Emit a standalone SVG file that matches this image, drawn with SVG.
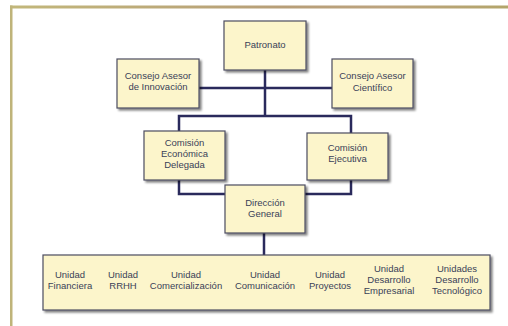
<svg xmlns="http://www.w3.org/2000/svg" width="508" height="326" viewBox="0 0 508 326">
<defs>
<linearGradient id="topg" x1="0" y1="0" x2="1" y2="0">
<stop offset="0" stop-color="#C2B77A"/>
<stop offset="0.55" stop-color="#B79E78"/>
<stop offset="0.75" stop-color="#BCA37E"/>
<stop offset="1" stop-color="#B3A56A"/>
</linearGradient>
<filter id="sh" x="-10%" y="-10%" width="130%" height="130%">
<feGaussianBlur in="SourceAlpha" stdDeviation="1"/>
<feOffset dx="2" dy="2" result="b"/>
<feComponentTransfer><feFuncA type="linear" slope="0.5"/></feComponentTransfer>
<feMerge><feMergeNode/><feMergeNode in="SourceGraphic"/></feMerge>
</filter>
</defs>
<style>
.box{fill:#FCF5CB;stroke:#4B4D60;stroke-width:1.2;filter:url(#sh)}
.t{font-family:"Liberation Sans",Arial,sans-serif;font-size:9.5px;fill:#3A3F58;text-anchor:middle}
.c{fill:none;stroke:#2A2A5C;stroke-width:2.5}
</style>
<rect width="508" height="326" fill="#FFFFFF"/>
<rect x="10" y="5.5" width="498" height="3" fill="url(#topg)"/>
<rect x="10" y="5.5" width="2.5" height="320.5" fill="#BFB47A"/>

<g id="connectors">
<path class="c" d="M265 70V116"/>
<path class="c" d="M199 88H332"/>
<path class="c" d="M179 131V116H351V133"/>
<path class="c" d="M179 180V194H225"/>
<path class="c" d="M351 180V194H305"/>
<path class="c" d="M264 233V255"/>
</g>

<g id="patronato">
<rect class="box" x="224" y="21" width="82" height="49"/>
<text class="t" x="265" y="48">Patronato</text>
</g>
<g id="consejo-innovacion">
<rect class="box" x="117" y="59" width="82" height="49"/>
<text class="t" x="158" y="79">Consejo Asesor</text>
<text class="t" x="158" y="90">de Innovación</text>
</g>
<g id="consejo-cientifico">
<rect class="box" x="332" y="59" width="81" height="49"/>
<text class="t" x="372.5" y="79">Consejo Asesor</text>
<text class="t" x="372.5" y="91">Científico</text>
</g>
<g id="comision-economica">
<rect class="box" x="144" y="131" width="81" height="49"/>
<text class="t" x="184.5" y="146">Comisión</text>
<text class="t" x="184.5" y="157">Económica</text>
<text class="t" x="184.5" y="168">Delegada</text>
</g>
<g id="comision-ejecutiva">
<rect class="box" x="307" y="133" width="81" height="47"/>
<text class="t" x="347.5" y="151">Comisión</text>
<text class="t" x="347.5" y="162">Ejecutiva</text>
</g>
<g id="direccion-general">
<rect class="box" x="225" y="185" width="80" height="48"/>
<text class="t" x="265" y="206">Dirección</text>
<text class="t" x="265" y="217">General</text>
</g>
<g id="unidades">
<rect class="box" x="43" y="255" width="447" height="55"/>
<text class="t" x="70" y="278">Unidad</text>
<text class="t" x="70" y="289">Financiera</text>
<text class="t" x="123" y="278">Unidad</text>
<text class="t" x="123" y="289">RRHH</text>
<text class="t" x="186" y="278">Unidad</text>
<text class="t" x="186" y="289">Comercialización</text>
<text class="t" x="265" y="278">Unidad</text>
<text class="t" x="265" y="289">Comunicación</text>
<text class="t" x="330" y="278">Unidad</text>
<text class="t" x="330" y="289">Proyectos</text>
<text class="t" x="389" y="272">Unidad</text>
<text class="t" x="389" y="283">Desarrollo</text>
<text class="t" x="389" y="294">Empresarial</text>
<text class="t" x="457" y="272">Unidades</text>
<text class="t" x="457" y="283">Desarrollo</text>
<text class="t" x="457" y="294">Tecnológico</text>
</g>
</svg>
